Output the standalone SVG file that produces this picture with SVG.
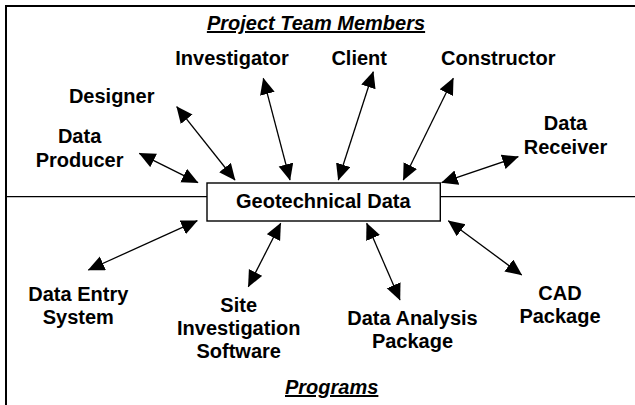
<svg xmlns="http://www.w3.org/2000/svg" width="635" height="405" viewBox="0 0 635 405">
<style>
  .lbl { font-family: "Liberation Sans", Arial, sans-serif; font-weight: bold; font-size: 20px; fill: #000; text-anchor: middle; }
  .hdr { font-style: italic; text-decoration: underline; }
  .frame { stroke: #000; stroke-width: 2; fill: none; }
  .div { stroke: #000; stroke-width: 1.3; fill: none; }
  .box { fill: #fff; stroke: #000; stroke-width: 1.4; }
  .conn { stroke: #000; stroke-width: 1.3; fill: none; marker-start: url(#ah); marker-end: url(#ah); }
</style>
<defs>
  <marker id="ah" markerUnits="userSpaceOnUse" markerWidth="17" markerHeight="16" refX="16" refY="7.5" orient="auto-start-reverse">
    <path d="M0,0 L16.5,7.5 L0,15 z" fill="#000"/>
  </marker>
</defs>
<rect width="635" height="405" fill="#fff"/>
<g id="frame">
  <path class="frame" d="M6,405 L6,6 L635,6"/>
  <path class="div" d="M6,196.7 L207,196.7 M440,196.7 L635,196.7"/>
  <text class="lbl hdr" x="316" y="30">Project Team Members</text>
  <text class="lbl hdr" x="331.7" y="394">Programs</text>
</g>
<g id="connectors">
  <line class="conn" x1="139.3" y1="153.3" x2="198" y2="182.7"/>
  <line class="conn" x1="176.7" y1="106.7" x2="235" y2="180"/>
  <line class="conn" x1="263.3" y1="78.3" x2="290" y2="180"/>
  <line class="conn" x1="373.3" y1="71.7" x2="338.3" y2="180"/>
  <line class="conn" x1="453.3" y1="78.3" x2="403.3" y2="180"/>
  <line class="conn" x1="518.3" y1="156.7" x2="441.7" y2="182.7"/>
  <line class="conn" x1="88.3" y1="270" x2="197.3" y2="220.7"/>
  <line class="conn" x1="248.3" y1="286.7" x2="280.7" y2="223.3"/>
  <line class="conn" x1="400" y1="300" x2="366.7" y2="223.3"/>
  <line class="conn" x1="521.7" y1="275" x2="448.3" y2="220.7"/>
</g>
<g id="geotechnical-data">
  <rect class="box" x="207" y="183" width="233.3" height="38"/>
  <text class="lbl" x="323.3" y="208.3">Geotechnical Data</text>
</g>
<g id="investigator"><text class="lbl" x="232" y="65">Investigator</text></g>
<g id="client"><text class="lbl" x="359.2" y="65">Client</text></g>
<g id="constructor"><text class="lbl" x="498.3" y="65">Constructor</text></g>
<g id="designer"><text class="lbl" x="111.7" y="103">Designer</text></g>
<g id="data-producer">
  <text class="lbl" x="79.6" y="143">Data</text>
  <text class="lbl" x="79.6" y="167">Producer</text>
</g>
<g id="data-receiver">
  <text class="lbl" x="565.5" y="130">Data</text>
  <text class="lbl" x="565.5" y="154">Receiver</text>
</g>
<g id="data-entry-system">
  <text class="lbl" x="78.3" y="300.5">Data Entry</text>
  <text class="lbl" x="78.3" y="323.5">System</text>
</g>
<g id="site-investigation-software">
  <text class="lbl" x="238.7" y="311.7">Site</text>
  <text class="lbl" x="238.7" y="335">Investigation</text>
  <text class="lbl" x="238.7" y="358.3">Software</text>
</g>
<g id="data-analysis-package">
  <text class="lbl" x="412.5" y="325">Data Analysis</text>
  <text class="lbl" x="412.5" y="348.3">Package</text>
</g>
<g id="cad-package">
  <text class="lbl" x="560" y="300">CAD</text>
  <text class="lbl" x="560" y="323.3">Package</text>
</g>
</svg>
